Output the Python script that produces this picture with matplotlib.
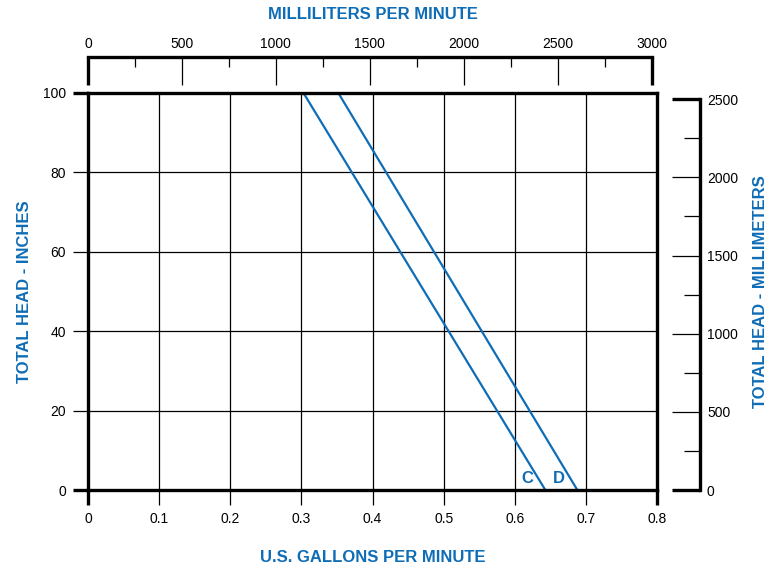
import matplotlib
matplotlib.use("Agg")
import matplotlib.pyplot as plt
import numpy as np

plt.rcParams['font.family'] = ['Liberation Sans', 'DejaVu Sans']

BLUE = '#0f6db6'
GAL_TO_ML = 3785.41
IN_TO_MM = 25.4

# pump curves: flow (US gal/min) vs total head (inches)
head_in = [100, 0]
flow_c = [0.303, 0.643]
flow_d = [0.352, 0.688]
curve_names = ['C', 'D']
label_x = [0.617, 0.662]
label_y = [1.0, 1.0]

x_ticks = [0, 0.1, 0.2, 0.3, 0.4, 0.5, 0.6, 0.7, 0.8]
y_ticks = [0, 20, 40, 60, 80, 100]
ml_ticks = [0, 500, 1000, 1500, 2000, 2500, 3000]
ml_minor = [250, 750, 1250, 1750, 2250, 2750]
mm_ticks = [0, 500, 1000, 1500, 2000, 2500]
mm_minor = [250, 750, 1250, 1750, 2250]

W, H = 777, 567
fig = plt.figure(figsize=(W / 100, H / 100), dpi=100)

def box(x0, y0, x1, y1):
    return [x0 / W, 1 - y1 / H, (x1 - x0) / W, (y1 - y0) / H]

# main chart
ax = fig.add_axes(box(88, 93, 657, 490))
ax.plot(flow_c, head_in, color=BLUE, lw=1.6)
ax.plot(flow_d, head_in, color=BLUE, lw=1.6)
for name, lx, ly in zip(curve_names, label_x, label_y):
    ax.text(lx, ly, name, color=BLUE, fontsize=12, fontweight='bold',
            ha='center', va='bottom')
ax.set_xlim(0, 0.8)
ax.set_ylim(0, 100)
ax.set_xticks(x_ticks)
ax.set_xticklabels(['0', '0.1', '0.2', '0.3', '0.4', '0.5', '0.6', '0.7', '0.8'])
ax.set_yticks(y_ticks)
ax.grid(True, color='black', lw=0.9)
for s in ax.spines.values():
    s.set_linewidth(2.4)
ax.tick_params(direction='out', length=11, width=0.9, labelsize=10, pad=5)
for t in [ax.xaxis.get_major_ticks()[0], ax.xaxis.get_major_ticks()[-1],
          ax.yaxis.get_major_ticks()[0], ax.yaxis.get_major_ticks()[-1]]:
    t.tick1line.set_markeredgewidth(2.4)
ax.set_xlabel('U.S. GALLONS PER MINUTE', color=BLUE, fontsize=12,
              fontweight='bold', labelpad=17)
ax.set_ylabel('TOTAL HEAD - INCHES', color=BLUE, fontsize=12,
              fontweight='bold', labelpad=8)

# top scale: millilitres per minute
axt = fig.add_axes(box(88, 57, 657, 85))
axt.patch.set_visible(False)
axt.set_xlim(0, 0.8 * GAL_TO_ML)
axt.set_ylim(0, 1)
for k in ['left', 'right', 'bottom']:
    axt.spines[k].set_visible(False)
axt.spines['top'].set_linewidth(2.4)
axt.spines['top'].set_bounds(0, 3000)
axt.set_yticks([])
axt.xaxis.tick_top()
axt.set_xticks(ml_ticks)
axt.set_xticks(ml_minor, minor=True)
axt.tick_params(axis='x', which='major', direction='in', length=20, width=0.9,
                labelsize=10, pad=4)
axt.tick_params(axis='x', which='minor', direction='in', length=7.5, width=0.9)
for t in [axt.xaxis.get_major_ticks()[0], axt.xaxis.get_major_ticks()[-1]]:
    t.tick2line.set_markeredgewidth(2.4)
axt.set_title('MILLILITERS PER MINUTE', color=BLUE, fontsize=12,
              fontweight='bold', pad=13)

# right scale: millimetres
axr = fig.add_axes(box(672, 93, 700, 490))
axr.patch.set_visible(False)
axr.set_ylim(0, 100 * IN_TO_MM)
axr.set_xlim(0, 1)
for k in ['left', 'top', 'bottom']:
    axr.spines[k].set_visible(False)
axr.spines['right'].set_linewidth(2.4)
axr.spines['right'].set_bounds(0, 2500)
axr.set_xticks([])
axr.yaxis.tick_right()
axr.yaxis.set_label_position('right')
axr.set_yticks(mm_ticks)
axr.set_yticks(mm_minor, minor=True)
axr.tick_params(axis='y', which='major', direction='in', length=20, width=0.9,
                labelsize=10, pad=5)
axr.tick_params(axis='y', which='minor', direction='in', length=11.5, width=0.9)
for t in [axr.yaxis.get_major_ticks()[0], axr.yaxis.get_major_ticks()[-1]]:
    t.tick2line.set_markeredgewidth(2.4)
axr.set_ylabel('TOTAL HEAD - MILLIMETERS', color=BLUE, fontsize=12,
               fontweight='bold', labelpad=11)

fig.savefig('out.png', dpi=100)
